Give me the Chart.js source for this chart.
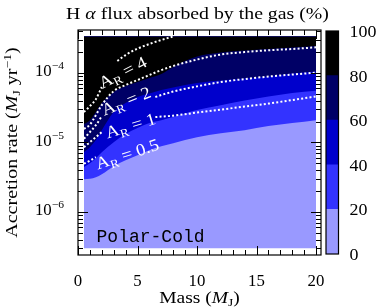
<!DOCTYPE html>
<html>
<head>
<meta charset="utf-8">
<script src="https://cdn.jsdelivr.net/npm/chart.js@4.4.0/dist/chart.umd.min.js"></script>
<style>
  html, body { margin: 0; padding: 0; background: #fff; }
  #wrap { position: relative; width: 391px; height: 307px; }
  #wrap canvas { position: absolute; left: 0; top: 0; }
</style>
</head>
<body>
<div id="wrap">
  <canvas id="main" width="391" height="307"></canvas>
  <canvas id="cbar" width="391" height="307"></canvas>
</div>
<script>
// edges of the model grid (accretion rate, M_J/yr)
var rateTop = 3.35e-4;
var rateBottom = 3.0e-7;

var bandMass = [0.5, 1, 1.5, 2, 3, 4, 5, 6, 7, 8, 10, 12, 14, 16, 18, 20];
// accretion rate where the absorbed fraction crosses 20, 40, 60 and 80 %
var edge20 = [2.96e-6, 3.01e-6, 3.16e-6, 3.49e-6, 4.56e-6, 5.55e-6, 6.56e-6, 7.75e-6, 8.85e-6, 9.77e-6, 1.19e-5, 1.36e-5, 1.50e-5, 1.72e-5, 1.90e-5, 2.09e-5];
var edge40 = [4.41e-6, 5.03e-6, 5.94e-6, 7.24e-6, 1.01e-5, 1.32e-5, 1.61e-5, 1.90e-5, 2.09e-5, 2.32e-5, 2.92e-5, 3.44e-5, 4.00e-5, 4.57e-5, 5.13e-5, 5.55e-5];
var edge60 = [7.24e-6, 8.55e-6, 1.08e-5, 1.50e-5, 2.74e-5, 3.68e-5, 4.50e-5, 5.05e-5, 5.67e-5, 6.17e-5, 7.15e-5, 7.76e-5, 8.30e-5, 8.87e-5, 9.80e-5, 1.05e-4];
var edge80 = [1.84e-5, 2.09e-5, 2.74e-5, 3.68e-5, 5.31e-5, 6.47e-5, 7.40e-5, 8.45e-5, 9.65e-5, 1.22e-4, 1.72e-4, 1.97e-4, 2.10e-4, 2.21e-4, 2.32e-4, 2.44e-4];

// dotted A_R contours (null = broken for the label)
var arTopMass = [0.5, 1, 1.5, 2, 2.6, 3.3, 4, 5, 6, 7, 8];
var arTopRate = [2.74e-5, 3.33e-5, 4.18e-5, 6.27e-5, null, 1.49e-4, 1.81e-4, 2.24e-4, 2.61e-4, 2.98e-4, 3.35e-4];
var ar4Mass = [0.5, 1, 1.5, 2, 3, 4, 5, 6, 7, 8, 10, 12, 14, 16, 18, 20];
var ar4Rate = [1.56e-5, 1.80e-5, 2.47e-5, 3.44e-5, 5.48e-5, 6.70e-5, 7.91e-5, 9.33e-5, 1.10e-4, 1.26e-4, 1.56e-4, 1.84e-4, 2.00e-4, 2.12e-4, 2.21e-4, 2.34e-4];
var ar2Mass = [0.5, 1, 1.5, 2, 4, 6.5, 7, 8, 10, 12, 14, 16, 18, 20];
var ar2Rate = [1.13e-5, 1.41e-5, 1.77e-5, 2.39e-5, null, 4.50e-5, 4.81e-5, 5.40e-5, 6.41e-5, 7.40e-5, 8.17e-5, 8.87e-5, 9.48e-5, 1.01e-4];
var ar1Mass = [0.5, 1, 1.5, 2, 4, 6.5, 8, 10, 12, 14, 16, 18, 20];
var ar1Rate = [8.55e-6, 1.01e-5, 1.19e-5, 1.41e-5, null, 2.32e-5, 2.43e-5, 2.69e-5, 2.97e-5, 3.28e-5, 3.62e-5, 4.07e-5, 4.60e-5];
var ar05Mass = [0.5, 1, 1.5];
var ar05Rate = [4.94e-6, 5.47e-6, 6.14e-6];

// ticks
var xTicks = [0, 5, 10, 15, 20];
var yTickExp = [-6, -5, -4];
var cbarTicks = [0, 20, 40, 60, 80, 100];
var cbarBands = [20, 20, 20, 20, 20];

var bandColors = ['#9999ff', '#3333ff', '#0000cc', '#000066', '#000000'];
var SERIF = '"Liberation Serif", "DejaVu Serif", serif';
var MONO = '"Liberation Mono", "DejaVu Sans Mono", monospace';

function pts(xs, ys) {
  return xs.map(function(x, i) { return {x: x, y: ys[i]}; });
}

// draws mixed-font text; sx widens the glyphs a bit (closer to the TeX look)
function drawRuns(ctx, runs, x, y, align, sx) {
  sx = sx || 1;
  var w = 0;
  runs.forEach(function(r) { ctx.font = r[1]; w += ctx.measureText(r[0]).width; });
  var cx = align === 'center' ? -w / 2 : (align === 'right' ? -w : 0);
  ctx.save();
  ctx.translate(x, y);
  ctx.scale(sx, 1);
  ctx.textAlign = 'left';
  ctx.textBaseline = 'alphabetic';
  runs.forEach(function(r) {
    ctx.font = r[1];
    ctx.fillText(r[0], cx, r[2] || 0);
    cx += ctx.measureText(r[0]).width;
  });
  ctx.restore();
}

function band(edge, color, order) {
  return {
    data: pts(bandMass, edge),
    borderWidth: 0, borderColor: 'transparent', pointRadius: 0,
    backgroundColor: color, fill: {target: 0},
    cubicInterpolationMode: 'monotone', order: order
  };
}

function dotted(xs, ys) {
  return {
    data: pts(xs, ys),
    borderColor: '#ffffff', borderWidth: 2, borderDash: [2, 2.2],
    pointRadius: 0, fill: false, spanGaps: false,
    cubicInterpolationMode: 'monotone', order: 1
  };
}

// label anchors for the contour labels, in data units
var notes = [
  {txt: '4', m: 3.74, r: 1.03e-4, ang: 27},
  {txt: '2', m: 4.03, r: 4.0e-5, ang: 22},
  {txt: '1', m: 4.41, r: 1.77e-5, ang: 17},
  {txt: '0.5', m: 4.13, r: 6.9e-6, ang: 18}
];

var decor = {
  id: 'decor',
  afterDraw: function(chart) {
    var ctx = chart.ctx, a = chart.chartArea;
    var xs = chart.scales.x, ys = chart.scales.y;
    ctx.save();
    ctx.fillStyle = '#000';
    ctx.strokeStyle = '#000';

    // contour labels
    ctx.fillStyle = '#fff';
    notes.forEach(function(n) {
      ctx.save();
      ctx.translate(xs.getPixelForValue(n.m), ys.getPixelForValue(n.r));
      ctx.rotate(-n.ang * Math.PI / 180);
      drawRuns(ctx, [['A', '17px ' + SERIF], ['R', '12px ' + SERIF, 3.5], [' = ' + n.txt, '17px ' + SERIF]], 0, 6, 'center', 1.1);
      ctx.restore();
    });

    ctx.fillStyle = '#000';
    ctx.font = '18px ' + MONO;
    ctx.textAlign = 'left';
    ctx.fillText('Polar-Cold', xs.getPixelForValue(1.56), ys.getPixelForValue(3.66e-7));

    // frame
    ctx.lineWidth = 1.2;
    ctx.strokeRect(a.left, a.top, a.right - a.left, a.bottom - a.top);

    // x ticks, mirrored on top
    ctx.lineWidth = 1;
    ctx.beginPath();
    for (var v = 0; v <= 20; v++) {
      var px = Math.round(xs.getPixelForValue(v)) + 0.5;
      var len = v % 5 === 0 ? 9 : 5;
      ctx.moveTo(px, a.bottom); ctx.lineTo(px, a.bottom - len);
      ctx.moveTo(px, a.top); ctx.lineTo(px, a.top + len);
    }
    // y ticks (log), mirrored on the right
    for (var d = -7; d <= -4; d++) {
      for (var k = 1; k <= 9; k++) {
        var val = k * Math.pow(10, d);
        if (val < ys.min || val > ys.max) continue;
        var py = Math.round(ys.getPixelForValue(val)) + 0.5;
        var l2 = k === 1 ? 10 : 5;
        ctx.moveTo(a.left, py); ctx.lineTo(a.left + l2, py);
        ctx.moveTo(a.right, py); ctx.lineTo(a.right - l2, py);
      }
    }
    ctx.stroke();

    // tick labels
    xTicks.forEach(function(t) {
      drawRuns(ctx, [[String(t), '16px ' + SERIF]], xs.getPixelForValue(t), 285.5, 'center', 1.05);
    });
    yTickExp.forEach(function(e) {
      var py = ys.getPixelForValue(Math.pow(10, e));
      drawRuns(ctx, [['10', '16px ' + SERIF], ['\u2212' + (-e), '11px ' + SERIF, -7]], 64, py + 3.5, 'right', 1.05);
    });

    // titles
    drawRuns(ctx, [['H ', '16.5px ' + SERIF], ['\u03b1', 'italic 16.5px ' + SERIF], [' flux absorbed by the gas (%)', '16.5px ' + SERIF]], (a.left + a.right) / 2 - 2, 18.5, 'center', 1.2);
    drawRuns(ctx, [['Mass (', '16px ' + SERIF], ['M', 'italic 16px ' + SERIF], ['J', '11px ' + SERIF, 3], [')', '16px ' + SERIF]], (a.left + a.right) / 2, 302.5, 'center', 1.22);
    ctx.save();
    ctx.translate(17, (a.top + a.bottom) / 2);
    ctx.rotate(-Math.PI / 2);
    drawRuns(ctx, [['Accretion rate (', '16px ' + SERIF], ['M', 'italic 16px ' + SERIF], ['J', '11px ' + SERIF, 3], [' yr', '16px ' + SERIF], ['\u22121', '11px ' + SERIF, -6.5], [')', '16px ' + SERIF]], 0, 0, 'center', 1.25);
    ctx.restore();

    ctx.restore();
  }
};

var datasets = [
  {data: pts(bandMass, bandMass.map(function() { return rateTop; })), borderWidth: 0, borderColor: 'transparent', pointRadius: 0, fill: false, order: 30},
  band(bandMass.map(function() { return rateBottom; }), bandColors[0], 29),
  band(edge20, bandColors[1], 28),
  band(edge40, bandColors[2], 27),
  band(edge60, bandColors[3], 26),
  band(edge80, bandColors[4], 25),
  dotted(arTopMass, arTopRate),
  dotted(ar4Mass, ar4Rate),
  dotted(ar2Mass, ar2Rate),
  dotted(ar1Mass, ar1Rate),
  dotted(ar05Mass, ar05Rate)
];

new Chart(document.getElementById('main'), {
  type: 'line',
  data: {datasets: datasets},
  options: {
    responsive: false,
    animation: false,
    events: [],
    layout: {padding: {left: 78, right: 70, top: 30, bottom: 52}},
    plugins: {legend: {display: false}, tooltip: {enabled: false}},
    scales: {
      x: {type: 'linear', min: 0, max: 20.42, display: false},
      y: {type: 'logarithmic', min: 2.4e-7, max: 4.15e-4, display: false}
    }
  },
  plugins: [decor]
});

// colour bar
var cbarDecor = {
  id: 'cbarDecor',
  afterDraw: function(chart) {
    var ctx = chart.ctx, a = chart.chartArea, ys = chart.scales.y;
    ctx.save();
    ctx.strokeStyle = '#000';
    ctx.lineWidth = 1.2;
    ctx.strokeRect(a.left, a.top, a.right - a.left, a.bottom - a.top);
    ctx.fillStyle = '#000';
    cbarTicks.forEach(function(t) {
      drawRuns(ctx, [[String(t), '16px ' + SERIF]], a.right + 11, ys.getPixelForValue(t) + 6, 'left', 1.12);
    });
    ctx.restore();
  }
};

new Chart(document.getElementById('cbar'), {
  type: 'bar',
  data: {
    labels: [''],
    datasets: cbarBands.map(function(v, i) {
      return {data: [v], backgroundColor: bandColors[i], borderWidth: 0, barPercentage: 1, categoryPercentage: 1};
    })
  },
  options: {
    responsive: false,
    animation: false,
    events: [],
    layout: {padding: {left: 326, right: 52.5, top: 31, bottom: 53}},
    plugins: {legend: {display: false}, tooltip: {enabled: false}},
    scales: {
      x: {stacked: true, display: false},
      y: {stacked: true, min: 0, max: 100, display: false}
    }
  },
  plugins: [cbarDecor]
});
</script>
</body>
</html>
